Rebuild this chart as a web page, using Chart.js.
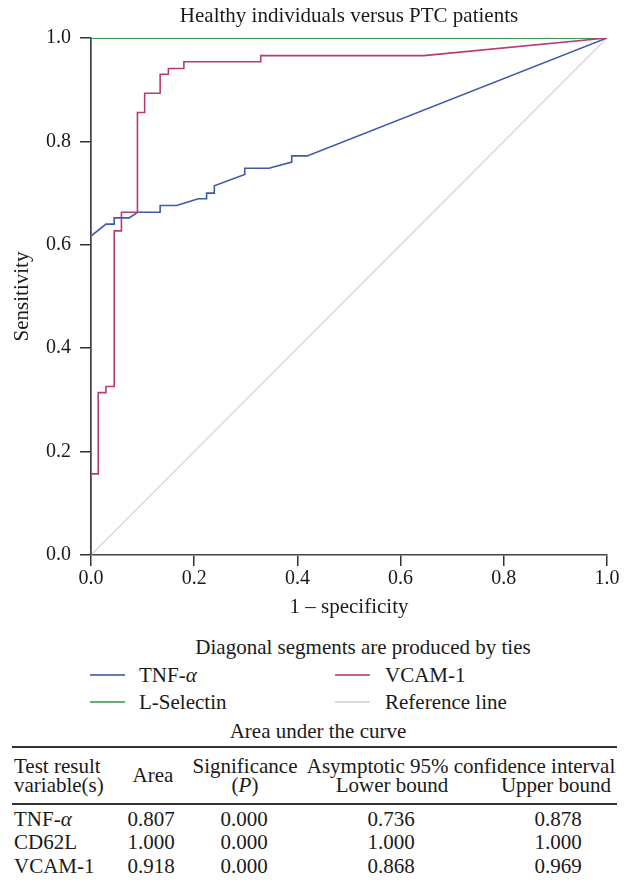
<!DOCTYPE html>
<html>
<head>
<meta charset="utf-8">
<script src="https://cdn.jsdelivr.net/npm/chart.js@4.4.0/dist/chart.umd.min.js"></script>
<style>
    body { margin: 0; background: #fff; font-family: "Liberation Serif", "DejaVu Serif", serif; color: #1a1a1a; }
    #wrap { position: relative; width: 633px; height: 887px; overflow: hidden; }
    #rocChart { position: absolute; left: 0; top: 0; }
    .txt { position: absolute; height: 24px; line-height: 24px; font-size: 21px; white-space: nowrap; }
    .ctr { transform: translateX(-50%); }
    .swatch { position: absolute; height: 2px; width: 35px; opacity: 0.8; }
    .rule { position: absolute; left: 12px; width: 605px; height: 0; border-top: 2px solid #333; }
</style>
</head>
<body>
<div id="wrap">
    <canvas id="rocChart" width="633" height="625"></canvas>
    <div id="notes"></div>
</div>
<script>
(function () {
    'use strict';

    // Đường ROC (1 - specificity, sensitivity)
    var tnfX = [0, 0, 0.029, 0.045, 0.045, 0.074, 0.090, 0.134, 0.134, 0.166, 0.208, 0.224, 0.224, 0.239, 0.239, 0.298, 0.298, 0.345, 0.389, 0.389, 0.419, 1];
    var tnfY = [0, 0.617, 0.640, 0.640, 0.652, 0.652, 0.663, 0.663, 0.676, 0.676, 0.689, 0.689, 0.700, 0.700, 0.714, 0.736, 0.748, 0.748, 0.760, 0.772, 0.772, 1];

    var vcamX = [0, 0, 0.014, 0.014, 0.029, 0.029, 0.045, 0.045, 0.059, 0.059, 0.090, 0.090, 0.104, 0.104, 0.134, 0.134, 0.150, 0.150, 0.180, 0.180, 0.329, 0.329, 0.645, 1];
    var vcamY = [0, 0.157, 0.157, 0.314, 0.314, 0.326, 0.326, 0.627, 0.627, 0.663, 0.663, 0.856, 0.856, 0.893, 0.893, 0.930, 0.930, 0.941, 0.941, 0.954, 0.954, 0.966, 0.966, 1];

    var lselX = [0, 0, 1];
    var lselY = [0, 1, 1];

    var refX = [0, 1];
    var refY = [0, 1];

    // Bảng diện tích dưới đường cong
    var aucNames = ['TNF-<i>α</i>', 'CD62L', 'VCAM-1'];
    var aucArea = ['0.807', '1.000', '0.918'];
    var aucSig = ['0.000', '0.000', '0.000'];
    var aucLower = ['0.736', '1.000', '0.868'];
    var aucUpper = ['0.878', '1.000', '0.969'];

    var serif = '"Liberation Serif", "DejaVu Serif", serif';

    function pts(xs, ys) {
        return xs.map(function (x, i) { return { x: x, y: ys[i] }; });
    }

    var datasets = [
        { label: 'VCAM-1', data: pts(vcamX, vcamY), borderColor: '#b93b74', borderWidth: 1.6, order: 0 },
        { label: 'L-Selectin', data: pts(lselX, lselY), borderColor: '#3d9c4a', borderWidth: 2, order: 1 },
        { label: 'TNF-α', data: pts(tnfX, tnfY), borderColor: '#3f5aa8', borderWidth: 1.6, order: 2 },
        { label: 'Reference line', data: pts(refX, refY), borderColor: '#cfcfcf', borderWidth: 1.2, order: 3 }
    ];
    datasets.forEach(function (d) {
        d.showLine = true;
        d.pointRadius = 0;
        d.tension = 0;
    });

    var axisText = { family: serif, size: 20 };
    var titleText = { family: serif, size: 21, weight: 'normal' };

    var ctx = document.getElementById('rocChart').getContext('2d');
    var rocChart = new Chart(ctx, {
        type: 'scatter',
        data: { datasets: datasets },
        options: {
            responsive: false,
            animation: false,
            layout: { padding: { left: 0, right: 26, top: 0, bottom: 0 } },
            plugins: {
                legend: { display: false },
                tooltip: { enabled: false },
                title: {
                    display: true,
                    fullSize: false,
                    text: 'Healthy individuals versus PTC patients',
                    color: '#1a1a1a',
                    font: titleText,
                    padding: { top: 3.5, bottom: 9.3 }
                }
            },
            scales: {
                x: {
                    type: 'linear',
                    min: 0,
                    max: 1,
                    ticks: {
                        stepSize: 0.2,
                        color: '#1a1a1a',
                        font: axisText,
                        padding: 1,
                        maxRotation: 0,
                        callback: function (v) { return v.toFixed(1); }
                    },
                    grid: { drawOnChartArea: false, drawTicks: true, tickLength: 11, color: '#333', lineWidth: 1.5 },
                    border: { display: true, color: '#444', width: 1.5 },
                    title: { display: true, text: '1 – specificity', color: '#1a1a1a', font: titleText, padding: { top: 0, bottom: 5.4 } },
                    afterFit: function (s) { s.height = 70; }
                },
                y: {
                    min: 0,
                    max: 1,
                    ticks: {
                        stepSize: 0.2,
                        color: '#1a1a1a',
                        font: axisText,
                        padding: 9,
                        callback: function (v) { return v.toFixed(1); }
                    },
                    grid: { drawOnChartArea: false, drawTicks: true, tickLength: 11, color: '#333', lineWidth: 1.5 },
                    border: { display: true, color: '#444', width: 1.5 },
                    title: { display: true, text: 'Sensitivity', color: '#1a1a1a', font: titleText, padding: { top: 9.4, bottom: 0 } },
                    afterFit: function (s) { s.width = 91; }
                }
            }
        }
    });

    // Chú thích và bảng (HTML)
    var notes = document.getElementById('notes');
    var html = '';
    function txt(s, x, cy, center) {
        return '<div class="txt' + (center ? ' ctr' : '') + '" style="left:' + x + 'px;top:' + (cy - 12) + 'px">' + s + '</div>';
    }

    html += txt('Diagonal segments are produced by ties', 363, 647, true);

    var legendOrder = ['TNF-α', 'VCAM-1', 'L-Selectin', 'Reference line'];
    var legCols = [90, 335], legTextX = [139, 385], legRows = [675, 702];
    legendOrder.forEach(function (name, i) {
        var ds = datasets.filter(function (d) { return d.label === name; })[0];
        var col = i % 2, row = Math.floor(i / 2);
        var label = name === 'TNF-α' ? 'TNF-<i>α</i>' : name;
        html += '<div class="swatch" style="left:' + legCols[col] + 'px;top:' + (legRows[row] - 1) + 'px;background:' + ds.borderColor + '"></div>';
        html += txt(label, legTextX[col], legRows[row], false);
    });

    html += txt('Area under the curve', 318, 731, true);
    html += '<div class="rule" style="top:746px"></div>';
    html += txt('Test result', 14, 766, false);
    html += txt('variable(s)', 14, 785, false);
    html += txt('Area', 153, 775, true);
    html += txt('Significance', 245, 766, true);
    html += txt('(<i>P</i>)', 245, 785, true);
    html += txt('Asymptotic 95% confidence interval', 461, 766, true);
    html += txt('Lower bound', 392, 785, true);
    html += txt('Upper bound', 556, 785, true);
    html += '<div class="rule" style="top:803px"></div>';

    var rowY = [819, 842, 866];
    aucNames.forEach(function (n, i) {
        html += txt(n, 14, rowY[i], false);
        html += txt(aucArea[i], 151, rowY[i], true);
        html += txt(aucSig[i], 244, rowY[i], true);
        html += txt(aucLower[i], 391, rowY[i], true);
        html += txt(aucUpper[i], 558, rowY[i], true);
    });
    notes.innerHTML = html;
})();
</script>
</body>
</html>
